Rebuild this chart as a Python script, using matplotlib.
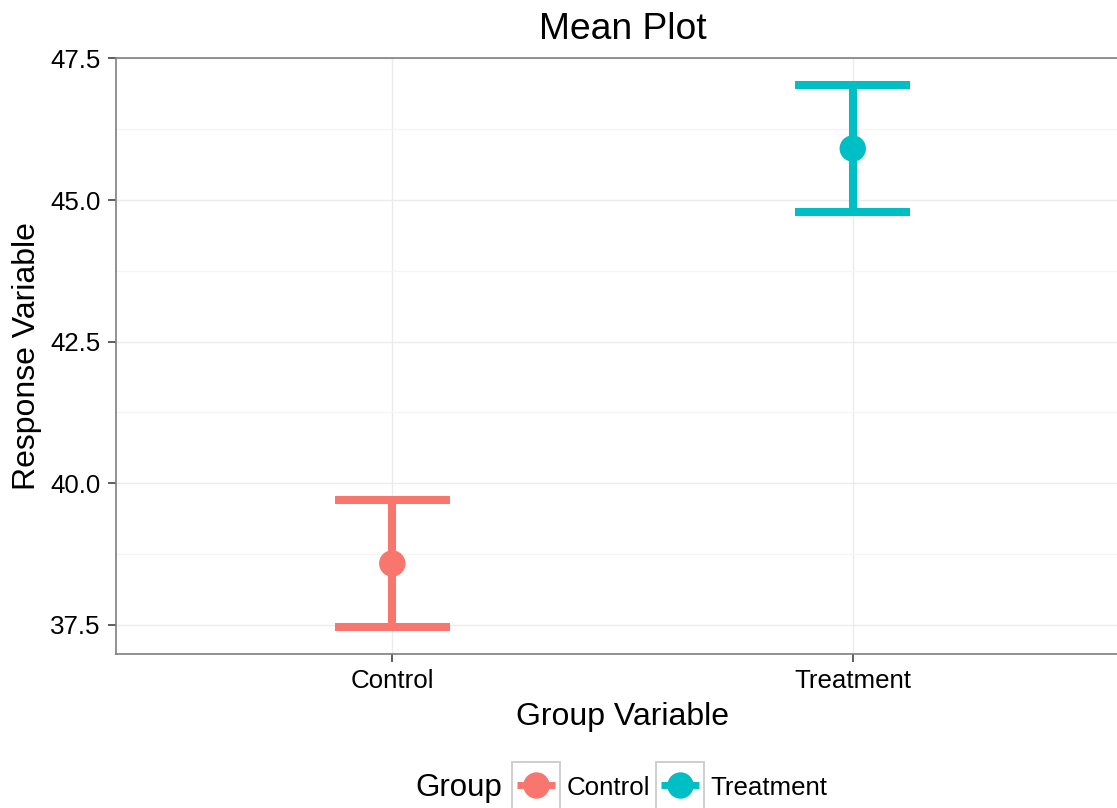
import numpy as np
import matplotlib
matplotlib.use("Agg")
import matplotlib.pyplot as plt
from matplotlib.lines import Line2D
from matplotlib.patches import Rectangle
from matplotlib.legend_handler import HandlerLine2D

# data
groups = ["Control", "Treatment"]
means = [38.58, 45.91]
lower = [37.46, 44.78]
upper = [39.70, 47.03]
colors = ["#F8766D", "#00BFC4"]
yticks = [37.5, 40.0, 42.5, 45.0, 47.5]

plt.rcParams["font.family"] = ["Liberation Sans", "DejaVu Sans"]

fig = plt.figure(figsize=(11.17, 8.08), dpi=100)
ax = fig.add_axes([0.1038, 0.1906, 0.907, 0.7376])

x = np.arange(1, len(groups) + 1)
lw = 5.8
capw = 0.125

ax.vlines(x, lower, upper, colors=colors, lw=lw, capstyle="butt", zorder=3)
ax.hlines(lower, x - capw, x + capw, colors=colors, lw=lw, capstyle="butt", zorder=3)
ax.hlines(upper, x - capw, x + capw, colors=colors, lw=lw, capstyle="butt", zorder=3)
ax.scatter(x, means, s=19 ** 2, c=colors, zorder=4, linewidths=0)

# ggplot-like expansion
r = max(upper) - min(lower)
ax.set_ylim(min(lower) - 0.05 * r, max(upper) + 0.05 * r)
ax.set_xlim(0.4, len(groups) + 0.6)

ax.set_xticks(x)
ax.set_xticklabels(groups)
ax.set_yticks(yticks)
ax.set_yticklabels(["%.1f" % v for v in yticks])
ax.set_yticks([(a + b) / 2 for a, b in zip(yticks[:-1], yticks[1:])], minor=True)

ax.grid(True, which="major", color="#ebebeb", lw=1.0, zorder=0)
ax.grid(True, which="minor", axis="y", color="#f5f5f5", lw=1.0, zorder=0)
ax.set_axisbelow(True)
ax.tick_params(axis="both", which="major", labelsize=18.6, length=6, width=1.1,
               color="#333333", pad=5, labelcolor="black")
ax.tick_params(axis="y", which="minor", length=0)
for s in ax.spines.values():
    s.set_color("#7f7f7f")
    s.set_linewidth(1.2)

ax.set_title("Mean Plot", fontsize=26.8, pad=14)
ax.set_xlabel("Group Variable", fontsize=23, labelpad=6)
ax.set_ylabel("Response Variable", fontsize=23, labelpad=6)


class BoxedHandler(HandlerLine2D):
    def create_artists(self, legend, orig_handle, xdescent, ydescent,
                       width, height, fontsize, trans):
        arts = super().create_artists(legend, orig_handle, xdescent, ydescent,
                                      width, height, fontsize, trans)
        line = arts[0]
        y0 = np.asarray(line.get_ydata())[0]
        shrink = 0.11 * width
        x0 = -xdescent + shrink
        x1 = -xdescent + width - shrink
        line.set_data([x0, (x0 + x1) / 2, x1], [y0, y0, y0])
        line.set_markevery([1])
        line.set_linewidth(5.0)
        line.set_solid_capstyle("butt")
        box = Rectangle((-xdescent, -ydescent - (width - height) / 2), width, width,
                        fill=False, ec="#cccccc", lw=1.3, transform=trans)
        return [box] + arts


handles = [Line2D([], [], color=c, lw=lw, marker="o", markersize=19,
                  markeredgewidth=0) for c in colors]
fig.text(415 / 1117, 1 - 788 / 808, "Group", fontsize=22.5, va="center", ha="left")
fig.legend(handles, groups, loc="center left", bbox_to_anchor=(512 / 1117, 1 - 787 / 808),
           ncol=2, frameon=False, fontsize=18.6, handlelength=1.85, handleheight=1.0,
           handletextpad=0.25, columnspacing=0.25, borderpad=0, borderaxespad=0,
           handler_map={Line2D: BoxedHandler(numpoints=1)})

fig.savefig("out.png", dpi=100)
